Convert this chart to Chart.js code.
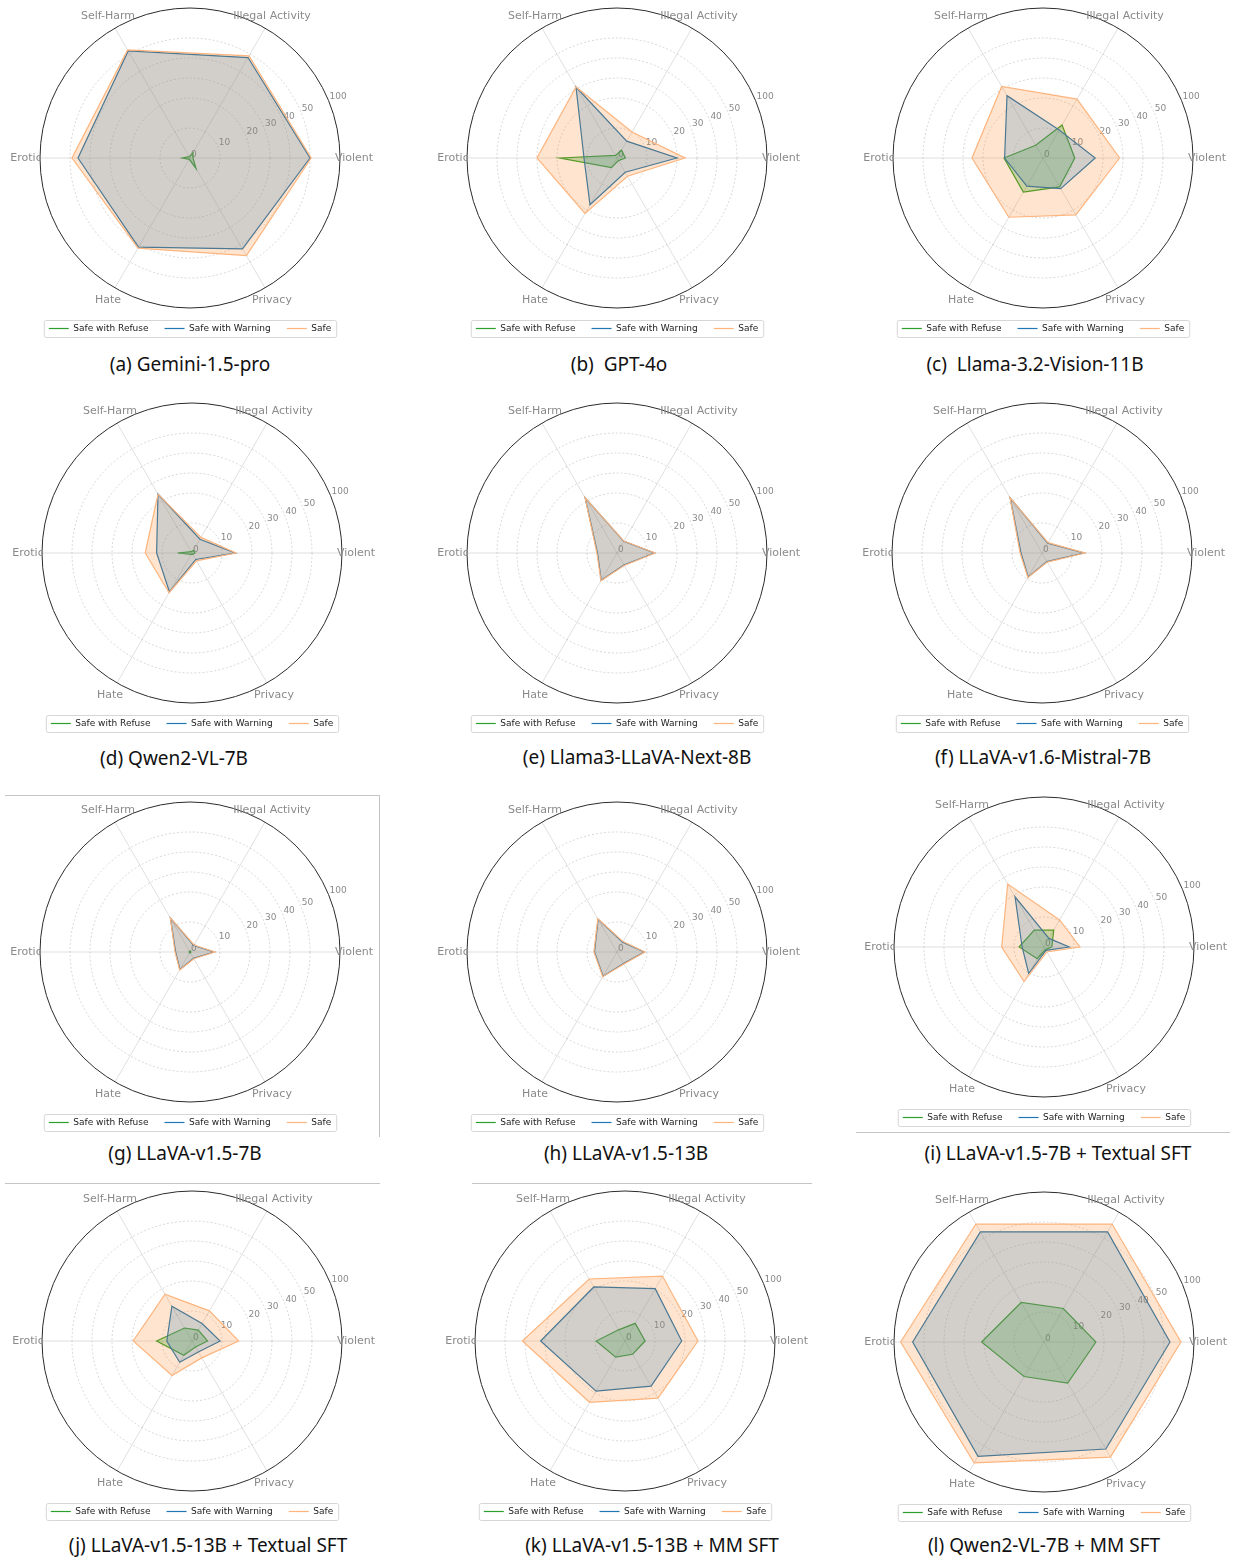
<!DOCTYPE html>
<html>
<head>
<meta charset="utf-8">
<script src="https://cdn.jsdelivr.net/npm/chart.js@4.4.1/dist/chart.umd.min.js"></script>
<style>
  body { margin: 0; background: #fff; }
  #page { position: relative; width: 1238px; height: 1560px; overflow: hidden; }
  .panel { position: absolute; width: 412px; height: 345px; }
  .caption {
    position: absolute; font-family: 'Noto Sans'; font-size: 19px; color: #111;
    white-space: pre; transform: translate(-50%, -50%); line-height: 1;
  }
  .rule { position: absolute; background: #c4c4c4; }
</style>
</head>
<body>
<div id="page"></div>
<script>
// categories in the order they go round the plot (anticlockwise from the right)
const categories = ['Violent', 'Illegal Activity', 'Self-Harm', 'Erotic', 'Hate', 'Privacy'];
const seriesNames = ['Safe with Refuse', 'Safe with Warning', 'Safe'];
const tickValues = [0, 10, 20, 30, 40, 50, 100];

const panelTitles = [
  '(a) Gemini-1.5-pro',
  '(b)  GPT-4o',
  '(c)  Llama-3.2-Vision-11B',
  '(d) Qwen2-VL-7B',
  '(e) Llama3-LLaVA-Next-8B',
  '(f) LLaVA-v1.6-Mistral-7B',
  '(g) LLaVA-v1.5-7B',
  '(h) LLaVA-v1.5-13B',
  '(i) LLaVA-v1.5-7B + Textual SFT',
  '(j) LLaVA-v1.5-13B + Textual SFT',
  '(k) LLaVA-v1.5-13B + MM SFT',
  '(l) Qwen2-VL-7B + MM SFT',
];

// one row per panel, values in `categories` order
const refuseValues = [
  [1, 2, 0.5, 2.5, 0.5, 4],
  [2.8, 3, 1, 19, 3.7, 1],
  [10.6, 12.7, 4.9, 13, 13.1, 11.1],
  [1, 1, 0.5, 4.8, 0.5, 0.5],
  [0, 0, 0, 0, 0, 0],
  [0, 0, 0, 0, 0, 0],
  [0.3, 0.3, 0.3, 0.3, 0.3, 0.3],
  [0, 0, 0, 0, 0, 0],
  [2.6, 6.5, 6.5, 8.3, 4.5, 1],
  [5.2, 4.2, 5, 11.8, 5.5, 2.3],
  [6.7, 6.8, 4.3, 9.6, 6.2, 5.1],
  [17.3, 12.9, 15.2, 21.2, 13.3, 15.8],
];
const warningValues = [
  [50, 48, 56, 46, 41.5, 42.5],
  [20, 6.5, 31, 11, 18, 5.5],
  [17.4, 10.8, 26, 12.8, 10.8, 11.8],
  [14.4, 5.3, 24, 11.8, 15, 2.5],
  [12.5, 4.5, 21.8, 6.5, 10.5, 4.6],
  [14, 3.8, 21.8, 7, 9.2, 3.3],
  [8, 2.5, 13, 4.8, 6.7, 2.4],
  [9.1, 3.8, 12.6, 7.5, 9.3, 4.4],
  [8.4, 3.3, 19.3, 7.3, 10.2, 1.3],
  [9.4, 6.7, 13.4, 8.4, 8.2, 4.2],
  [18.9, 20.2, 21.2, 32.2, 19.3, 17.4],
  [60, 62, 62, 68.9, 70, 56],
];
const safeValues = [
  [52, 49, 58, 49, 42, 46.4],
  [24, 10, 31, 30, 22, 7],
  [28.3, 24, 31.3, 25.5, 24.2, 22.8],
  [14.7, 6, 24, 15.6, 15.3, 3],
  [12.7, 4.6, 22, 6.7, 10.7, 4.8],
  [14.3, 4, 22, 7.3, 9.4, 3.5],
  [8.3, 2.7, 13.1, 5, 6.9, 2.6],
  [9.3, 4, 12.8, 7.7, 9.5, 4.6],
  [12, 10.4, 26.3, 14.1, 13.3, 1.9],
  [15.6, 11.6, 18, 19.6, 13.3, 6.5],
  [26.5, 27.5, 25.8, 41.3, 25.4, 23],
  [78.3, 77, 77, 88.9, 82.8, 71.4],
];

// page layout: polar centre and caption centre of each panel
const panelCenters = [
  [190, 158], [617, 158], [1043, 158],
  [192, 553], [617, 553], [1042, 553],
  [190, 952], [617, 952], [1044, 947],
  [192, 1341], [625, 1341], [1044, 1342],
];
const captionCenters = [
  [190, 364], [619, 364], [1035, 364],
  [174, 758], [637, 757], [1043, 757],
  [185, 1153], [626, 1153], [1058, 1153],
  [208, 1545], [652, 1545], [1044, 1545],
];

const lineColors = ['#2ca02c', '#1f77b4', '#fdb47d'];
// Safe is painted on top, so the lower fills are tinted to read as grey / grey-green through it
const fillColors = ['rgba(20,170,40,0.28)', 'rgba(30,145,230,0.25)', 'rgba(255,127,14,0.2)'];

Chart.defaults.font.family = '"DejaVu Sans"';

// rings are not evenly spaced: 0-20 wide, 20-50 narrower, 50-100 squeezed
const ringFractions = [0, 0.2, 0.4, 0.5333, 0.6667, 0.8, 1];

function ringFraction(v) {
  if (v <= tickValues[0]) return 0;
  for (let i = 1; i < tickValues.length; i++) {
    if (v <= tickValues[i]) {
      const t = (v - tickValues[i - 1]) / (tickValues[i] - tickValues[i - 1]);
      return ringFractions[i - 1] + t * (ringFractions[i] - ringFractions[i - 1]);
    }
  }
  return 1;
}

class RingScale extends Chart.RadialLinearScale {
  getDistanceFromCenterForValue(value) {
    if (value === null || value === undefined || isNaN(value)) return NaN;
    return this.drawingArea * ringFraction(value);
  }
  drawGrid(area) {
    super.drawGrid(area);
    const ctx = this.ctx;
    ctx.save();
    ctx.font = '11px "DejaVu Sans"';
    ctx.fillStyle = '#8a8a8a';
    ctx.textAlign = 'center';
    ctx.textBaseline = 'middle';
    this._pointLabels.forEach((label, i) => {
      const p = this.getPointPosition(i, this.drawingArea + 14);
      ctx.fillText(label, p.x, p.y);
    });
    ctx.restore();
  }
  drawLabels() {
    // radial tick labels sit along the 22.5 degree direction
    const ctx = this.ctx;
    const a = -Math.PI / 8;
    ctx.save();
    ctx.font = '9px "DejaVu Sans"';
    ctx.fillStyle = '#8a8a8a';
    ctx.textAlign = 'left';
    ctx.textBaseline = 'bottom';
    this.ticks.forEach((tick) => {
      const d = this.getDistanceFromCenterForValue(tick.value);
      ctx.fillText(tick.label, this.xCenter + d * Math.cos(a) + 1, this.yCenter + d * Math.sin(a) + 1);
    });
    ctx.restore();
  }
}
RingScale.id = 'ringRadial';
RingScale.defaults = Chart.RadialLinearScale.defaults;
Chart.register(RingScale);

const legendFrame = {
  id: 'legendFrame',
  afterDraw(chart) {
    const boxes = chart.legend && chart.legend.legendHitBoxes;
    if (!boxes || !boxes.length) return;
    const last = boxes[boxes.length - 1];
    const x0 = boxes[0].left - 5;
    const x1 = last.left + last.width + 5;
    const y0 = boxes[0].top - 4;
    const y1 = boxes[0].top + boxes[0].height + 4;
    const ctx = chart.ctx;
    ctx.save();
    ctx.strokeStyle = '#d6d6d6';
    ctx.lineWidth = 1;
    ctx.beginPath();
    ctx.roundRect(x0 + 0.5, y0 + 0.5, x1 - x0, y1 - y0, 2);
    ctx.stroke();
    ctx.restore();
  },
};

// plot order round the chart goes clockwise from the right in Chart.js
const chartOrder = [0, 5, 4, 3, 2, 1];
const reorder = (arr) => chartOrder.map((i) => arr[i]);

const page = document.getElementById('page');

panelTitles.forEach((title, p) => {
  const [cx, cy] = panelCenters[p];
  const box = document.createElement('div');
  box.className = 'panel';
  box.style.left = (cx - 206) + 'px';
  box.style.top = (cy - 160) + 'px';
  const canvas = document.createElement('canvas');
  canvas.width = 412;
  canvas.height = 345;
  box.appendChild(canvas);
  page.appendChild(box);

  const series = [refuseValues[p], warningValues[p], safeValues[p]];
  const datasets = series.map((vals, s) => ({
    label: seriesNames[s],
    data: reorder(vals),
    borderColor: lineColors[s],
    backgroundColor: fillColors[s],
    borderWidth: 1.2,
    pointRadius: 0,
    fill: 'origin',
    order: 2 - s,
  }));

  new Chart(canvas, {
    type: 'radar',
    data: { labels: reorder(categories), datasets },
    options: {
      responsive: false,
      animation: false,
      events: [],
      layout: { padding: { top: 10, bottom: 0, left: 0, right: 0 } },
      elements: { line: { tension: 0 } },
      scales: {
        r: {
          type: 'ringRadial',
          min: 0,
          max: 100,
          startAngle: 90,
          afterBuildTicks: (scale) => {
            scale.ticks = tickValues.map((v) => ({ value: v }));
          },
          ticks: { display: false },
          pointLabels: { display: false },
          grid: {
            circular: true,
            color: (c) => (c.tick && c.tick.value === 100 ? '#2b2b2b' : 'rgba(0,0,0,0.22)'),
            lineWidth: (c) => (c.tick && c.tick.value === 100 ? 1 : 0.7),
            borderDash: (c) => (c.tick && c.tick.value === 100 ? [] : [2, 2]),
          },
          border: {
            dash: (c) => (c.tick && c.tick.value === 100 ? [] : [2, 2]),
          },
          angleLines: { color: 'rgba(0,0,0,0.16)', lineWidth: 0.8 },
        },
      },
      plugins: {
        legend: {
          position: 'bottom',
          labels: {
            usePointStyle: true,
            pointStyle: 'line',
            pointStyleWidth: 20,
            padding: 16,
            color: '#222',
            font: { size: 9 },
            sort: (a, b) => a.datasetIndex - b.datasetIndex,
          },
        },
        tooltip: { enabled: false },
      },
    },
    plugins: [legendFrame],
  });

  const cap = document.createElement('div');
  cap.className = 'caption';
  cap.textContent = title;
  cap.style.left = captionCenters[p][0] + 'px';
  cap.style.top = captionCenters[p][1] + 'px';
  page.appendChild(cap);
});

// thin frame lines left over from the figure's crop
[
  [379, 795, 1, 342],
  [5, 795, 374, 1],
  [856, 1132, 374, 1],
  [5, 1183, 375, 1],
  [472, 1183, 340, 1],
].forEach(([x, y, w, h]) => {
  const r = document.createElement('div');
  r.className = 'rule';
  Object.assign(r.style, { left: x + 'px', top: y + 'px', width: w + 'px', height: h + 'px' });
  page.appendChild(r);
});
</script>
</body>
</html>
